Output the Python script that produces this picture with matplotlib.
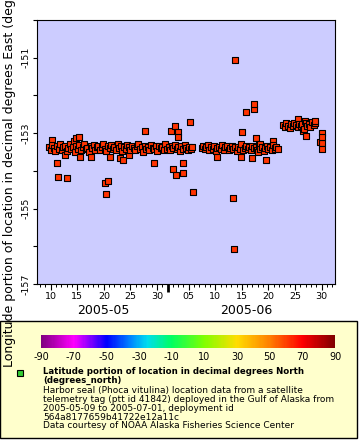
import numpy as np
import matplotlib
matplotlib.use('Agg')
import matplotlib.pyplot as plt
from matplotlib.colors import LinearSegmentedColormap, Normalize
from matplotlib.cm import ScalarMappable
from matplotlib.patches import Rectangle
from matplotlib.lines import Line2D

# time in days counted from 2005-05-01 = 1 (June d -> 31 + d)
band1_t = [9.7, 10.0, 10.3, 10.6, 10.9, 11.2, 11.5, 11.8, 12.1, 12.4, 12.7, 13.0, 13.3,
           13.6, 13.9, 14.2, 14.5, 14.8, 15.1, 15.4, 15.7, 16.0, 16.3, 16.6, 16.9, 17.2,
           17.5, 17.8, 18.1, 18.4, 18.7, 19.0, 19.3, 19.6, 19.9, 20.2, 20.5, 20.8, 21.1,
           21.4, 21.7, 22.0, 22.3, 22.6, 22.9, 23.2, 23.5, 23.8, 24.1, 24.4, 24.7, 25.0,
           25.3, 25.6, 25.9, 26.2, 26.5, 26.8, 27.1, 27.4, 27.7, 28.0, 28.3, 28.6, 28.9,
           29.2, 29.5, 29.8, 30.1, 30.4, 30.7, 31.0, 31.3, 31.6, 31.9, 32.2, 32.5, 32.8,
           33.1, 33.4, 33.7, 34.0, 34.3, 34.6, 34.9, 35.2, 35.5, 35.8, 36.1, 36.4, 36.7]
band1_lon = [-153.36, -153.44, -153.31, -153.40, -153.48, -153.34, -153.42, -153.29, -153.45, -153.38,
             -153.33, -153.47, -153.39, -153.30, -153.43, -153.36, -153.50, -153.35, -153.41, -153.32,
             -153.45, -153.37, -153.28, -153.43, -153.39, -153.49, -153.34, -153.40, -153.31, -153.46,
             -153.38, -153.33, -153.44, -153.36, -153.30, -153.42, -153.47, -153.35, -153.39, -153.32,
             -153.41, -153.37, -153.45, -153.29, -153.40, -153.34, -153.48, -153.38, -153.43, -153.31,
             -153.36, -153.44, -153.33, -153.40, -153.46, -153.35, -153.30, -153.42, -153.38, -153.49,
             -153.34, -153.41, -153.37, -153.45, -153.31, -153.39, -153.43, -153.35, -153.47, -153.33,
             -153.40, -153.36, -153.44, -153.30, -153.42, -153.38, -153.46, -153.34, -153.40, -153.32,
             -153.43, -153.37, -153.48, -153.35, -153.41, -153.31, -153.39, -153.45, -153.36, -153.42,
             -153.38]

band2_t = [38.4, 38.7, 39.0, 39.3, 39.6, 39.9, 40.2, 40.5, 40.8, 41.1, 41.4, 41.7, 42.0,
           42.3, 42.6, 42.9, 43.2, 43.5, 43.8, 44.1, 44.4, 44.7, 45.0, 45.3, 45.6, 45.9,
           46.2, 46.5, 46.8, 47.1, 47.4, 47.7, 48.0, 48.3, 48.6, 48.9, 49.2, 49.5, 49.8,
           50.1, 50.4, 50.7, 51.0, 51.3, 51.6, 51.9, 52.2, 52.5, 52.8]
band2_lon = [-153.40, -153.35, -153.43, -153.38, -153.32, -153.45, -153.37, -153.41, -153.34, -153.47,
             -153.39, -153.36, -153.42, -153.31, -153.44, -153.38, -153.35, -153.46, -153.40, -153.33,
             -153.43, -153.37, -153.48, -153.36, -153.41, -153.30, -153.44, -153.39, -153.35, -153.42,
             -153.38, -153.46, -153.33, -153.40, -153.37, -153.44, -153.31, -153.41, -153.36, -153.47,
             -153.39, -153.34, -153.43, -153.38, -153.45, -153.32, -153.40, -153.36, -153.42]

cluster_t = [53.8, 54.1, 54.4, 54.7, 55.0, 55.3, 55.6, 55.9, 56.2, 56.5, 56.8, 57.1, 57.4,
             57.7, 58.0, 58.3, 58.6, 58.9, 59.2, 59.5, 59.8]
cluster_lon = [-152.78, -152.83, -152.74, -152.80, -152.86, -152.76, -152.81, -152.72, -152.79,
               -152.84, -152.75, -152.82, -152.77, -152.88, -152.73, -152.80, -152.76, -152.84,
               -152.71, -152.79, -152.74]

other_t = [10.2, 15.3, 14.8, 14.4, 11.2, 11.4, 13.1, 20.7, 20.3, 20.5, 15.5, 17.6, 12.7, 21.2,
           27.8, 32.6, 33.5, 34.0, 34.0, 23.1, 23.6, 24.7, 29.4, 33.0, 33.6, 34.9, 34.9, 36.8,
           44.3, 44.5, 41.3, 45.8, 47.9, 50.5, 51.9, 36.2, 46.0, 44.8, 48.2, 48.2, 46.7,
           61.1, 61.1, 61.1, 61.1, 60.7, 48.7, 49.5, 52.2, 58.1, 57.5, 56.5, 57.8, 59.8, 49.0]
other_lon = [-153.19, -153.09, -153.13, -153.20, -153.78, -154.15, -154.20, -154.28, -154.32, -154.61,
             -153.64, -153.64, -153.57, -153.62, -152.95, -152.93, -152.82, -152.96, -153.11, -153.66,
             -153.72, -153.59, -153.78, -153.95, -154.12, -154.06, -153.79, -154.57, -154.71, -156.06,
             -153.64, -153.62, -153.67, -153.72, -153.22, -152.71, -152.98, -151.05, -152.22, -152.37,
             -152.45, -153.00, -153.11, -153.27, -153.43, -153.23, -153.14, -153.30, -153.41, -153.07,
             -152.93, -152.62, -152.69, -152.67, -153.51]

xtick_pos = [10, 15, 20, 25, 30, 36, 41, 46, 51, 56, 61]
xtick_lab = ['10', '15', '20', '25', '30', '05', '10', '15', '20', '25', '30']
months = ['2005-05', '2005-06']
cbar_ticks = [-90, -70, -50, -30, -10, 10, 30, 50, 70, 90]

legend_title = 'Latitude portion of location in decimal degrees North\n(degrees_north)'
legend_body = ('Harbor seal (Phoca vitulina) location data from a satellite\n'
               'telemetry tag (ptt id 41842) deployed in the Gulf of Alaska from\n'
               '2005-05-09 to 2005-07-01, deployment id\n'
               '564a8177659b41722e12a11c\n'
               'Data courtesy of NOAA Alaska Fisheries Science Center')

t = np.array(band1_t + band2_t + cluster_t + other_t)
lon = np.array(band1_lon + band2_lon + cluster_lon + other_lon)
order = np.argsort(t)
t, lon = t[order], lon[order]

rainbow = LinearSegmentedColormap.from_list('erddap_rainbow', [
    (0.0, '#800080'), (20 / 180, '#ff00ff'), (40 / 180, '#0000ff'), (55 / 180, '#0088ff'),
    (65 / 180, '#00ddee'), (80 / 180, '#00ff60'), (100 / 180, '#80ff00'), (120 / 180, '#ffdd00'),
    (140 / 180, '#ff8000'), (160 / 180, '#ff0000'), (1.0, '#800000')])

fig = plt.figure(figsize=(3.6, 4.4), dpi=100)

# legend panel
fig.add_artist(Rectangle((0.0, 2 / 440), 357 / 360, 117 / 440, transform=fig.transFigure,
                         facecolor='#ffffcc', edgecolor='black', lw=1, zorder=-1))

ax = fig.add_axes([37 / 360, 156 / 440, 298 / 360, 264 / 440])
ax.set_facecolor('#ccccff')
ax.scatter(t, lon, s=19, marker='s', facecolor='#ff3300', edgecolor='black', linewidth=0.8)
ax.set_xlim(7.42, 63.54)
ax.set_ylim(-157, -150)

ax.set_xticks(xtick_pos)
ax.set_xticklabels(xtick_lab, fontsize=6.8)
ax.set_xticks(np.arange(8, 64), minor=True)
ax.tick_params(axis='x', which='major', length=4, width=0.8, pad=2)
ax.tick_params(axis='x', which='minor', length=2.5, width=0.7)

ax.set_yticks([-157, -155, -153, -151])
ax.set_yticklabels(['-157', '-155', '-153', '-151'], fontsize=6.8, rotation=90, va='center')
ax.set_yticks([-156, -154, -152, -150], minor=True)
ax.tick_params(axis='y', which='both', length=3, width=0.8, pad=2)

sec = ax.secondary_xaxis('bottom')
sec.set_xticks([32])
sec.set_xticklabels([''])
sec.tick_params(length=6, width=2)
sec.spines['bottom'].set_visible(False)

fig.text(103 / 360, 1 - 311 / 440, months[0], ha='center', va='center', fontsize=9)
fig.text(246 / 360, 1 - 311 / 440, months[1], ha='center', va='center', fontsize=9)

fig.text(10 / 360, 1 - 367 / 440, 'Longitude portion of location in decimal degrees East (degrees_east)',
         rotation=90, ha='center', va='bottom', fontsize=9, zorder=5)

cax = fig.add_axes([41 / 360, 92 / 440, 294 / 360, 13 / 440])
cb = fig.colorbar(ScalarMappable(norm=Normalize(-90, 90), cmap=rainbow), cax=cax,
                  orientation='horizontal')
cb.set_ticks(cbar_ticks)
cb.set_ticklabels([str(v) for v in cbar_ticks])
cb.outline.set_visible(False)
cax.tick_params(length=0, labelsize=7, pad=3)

fig.add_artist(Line2D([20 / 360], [1 - 373 / 440], transform=fig.transFigure, marker='s',
                      markersize=4, markerfacecolor='#33cc33', markeredgecolor='black',
                      markeredgewidth=0.8, linestyle='none'))
fig.text(43 / 360, 1 - 367 / 440, legend_title, ha='left', va='top', fontsize=6.2,
         fontweight='bold', linespacing=0.95)
fig.text(43 / 360, 1 - 386 / 440, legend_body, ha='left', va='top', fontsize=6.5,
         linespacing=0.98)

fig.savefig('out.png', dpi=100)
